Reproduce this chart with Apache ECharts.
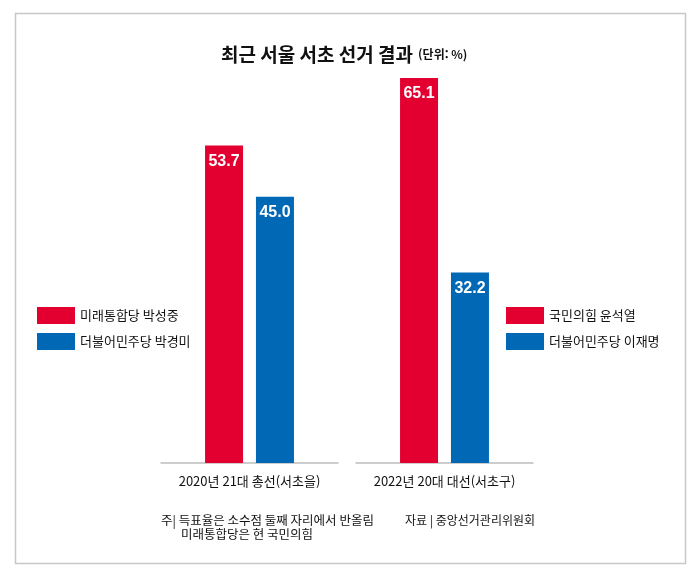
<!DOCTYPE html>
<html lang="ko">
<head>
    <meta charset="UTF-8">
    <title>최근 서울 서초 선거 결과</title>
    <style>
        html, body { margin: 0; padding: 0; background: #fff; }
    </style>
</head>
<body>
    <div id="main" style="width: 700px;height:579px;"></div>

    <script src="https://cdn.jsdelivr.net/npm/echarts@6/dist/echarts.min.js"></script>
    <script type="text/javascript">
        // 데이터
        var elections = ['2020년 21대 총선(서초을)', '2022년 20대 대선(서초구)'];
        var names2020 = ['미래통합당 박성중', '더불어민주당 박경미'];
        var names2022 = ['국민의힘 윤석열', '더불어민주당 이재명'];
        var values2020 = [53.7, 45.0];
        var values2022 = [65.1, 32.2];

        var RED = '#e30031';
        var BLUE = '#0068b4';
        var FONT = '"Noto Sans CJK KR", "Noto Sans", sans-serif';

        var myChart = echarts.init(document.getElementById('main'));

        function label() {
            return {
                show: true,
                position: 'insideTop',
                distance: 8,
                color: '#fff',
                fontWeight: 'bold',
                fontSize: 16,
                fontFamily: '"Liberation Sans Narrow", "Liberation Sans", sans-serif',
                formatter: function (p) { return p.value.toFixed(1) }
            }
        }

        function bar(name, value, idx, color) {
            return {
                type: 'bar',
                name: name,
                xAxisIndex: idx,
                yAxisIndex: idx,
                data: [value],
                barWidth: 38,
                barGap: '34%',
                itemStyle: { color: color },
                label: label(),
                silent: true
            }
        }

        function xAxis(idx) {
            return {
                type: 'category',
                gridIndex: idx,
                data: [elections[idx]],
                axisLine: { lineStyle: { color: '#bdbdbd', width: 1.5 } },
                axisTick: { show: false },
                axisLabel: { color: '#111', fontSize: 13, fontFamily: FONT, margin: 12 }
            }
        }

        function yAxis(idx) {
            return {
                type: 'value',
                gridIndex: idx,
                min: 0,
                max: 70,
                show: false
            }
        }

        function legend(names, left) {
            return {
                data: names,
                orient: 'vertical',
                left: left,
                top: 302,
                itemWidth: 38,
                itemHeight: 17,
                itemGap: 9,
                icon: 'rect',
                selectedMode: false,
                textStyle: { color: '#111', fontSize: 13, fontFamily: FONT }
            }
        }

        var option = {
            animation: false,
            title: {
                text: '{a|최근 서울 서초 선거 결과} {b|(단위: %)}',
                left: 216,
                top: 40,
                textStyle: {
                    rich: {
                        a: { fontSize: 19, fontWeight: 'bold', color: '#111', fontFamily: FONT },
                        b: { fontSize: 12, color: '#111', fontFamily: FONT }
                    }
                }
            },
            legend: [legend(names2020, 32), legend(names2022, 501)],
            grid: [
                { left: 161, width: 177, top: 49, bottom: 116 },
                { left: 356, width: 177, top: 49, bottom: 116 }
            ],
            xAxis: [xAxis(0), xAxis(1)],
            yAxis: [yAxis(0), yAxis(1)],
            series: [
                bar(names2020[0], values2020[0], 0, RED),
                bar(names2020[1], values2020[1], 0, BLUE),
                bar(names2022[0], values2022[0], 1, RED),
                bar(names2022[1], values2022[1], 1, BLUE)
            ],
            graphic: [
                {
                    type: 'rect',
                    shape: { x: 15.5, y: 13.5, width: 670, height: 550 },
                    style: { fill: 'none', stroke: '#c8c8c8', lineWidth: 1.5 },
                    silent: true,
                    z: -1
                },
                {
                    type: 'text',
                    left: 161,
                    top: 514,
                    style: { text: '주| 득표율은 소수점 둘째 자리에서 반올림', fill: '#111', font: '12.5px ' + FONT }
                },
                {
                    type: 'text',
                    left: 181,
                    top: 528,
                    style: { text: '미래통합당은 현 국민의힘', fill: '#111', font: '12.5px ' + FONT }
                },
                {
                    type: 'text',
                    left: 405,
                    top: 514,
                    style: { text: '자료 | 중앙선거관리위원회', fill: '#111', font: '12px ' + FONT }
                }
            ]
        };
        myChart.setOption(option);
    </script>
</body>
</html>
